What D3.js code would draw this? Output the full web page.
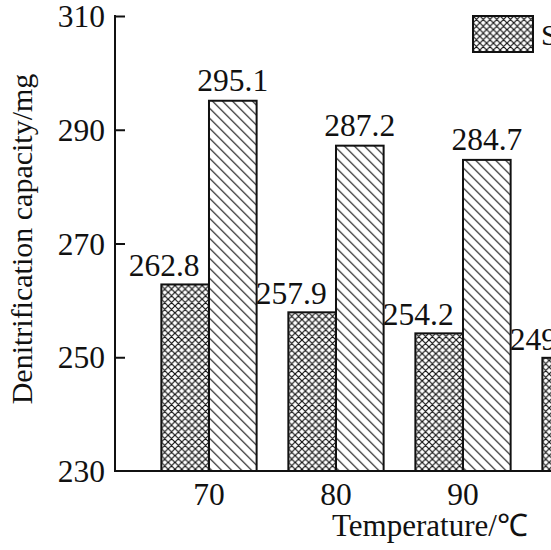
<!DOCTYPE html>
<html>
<head>
<meta charset="utf-8">
<script src="https://cdn.jsdelivr.net/npm/d3@7"></script>
<style>
  html, body { margin: 0; padding: 0; background: #fff; overflow: hidden; }
  svg { display: block; }
</style>
</head>
<body>
<div id="chart"></div>
<script>
// values
const temperatures = ["70", "80", "90", "100"];
const seriesNames = ["Straw", "Modified straw"];
const crossValues = [262.8, 257.9, 254.2, 249.9];
const hatchValues = [295.1, 287.2, 284.7, 281.0];
const yTicks = [230, 250, 270, 290, 310];

const W = 551, H = 550;
const axisX = 115, plotTop = 16, plotBottom = 471;
const serif = "'Liberation Serif', 'Times New Roman', Times, serif";
const numSize = 31.5, titleSize = 30;

const svg = d3.select("#chart").append("svg")
    .attr("width", W)
    .attr("height", H)
    .attr("font-family", serif);

const defs = svg.append("defs");

// crosshatch
let cross = defs.append("pattern")
    .attr("id", "cross")
    .attr("patternUnits", "userSpaceOnUse")
    .attr("width", 6.8).attr("height", 6.8);
cross.append("rect").attr("width", 6.8).attr("height", 6.8).attr("fill", "#fff");
cross.append("path")
    .attr("d", "M0,0L6.8,6.8M0,6.8L6.8,0M-1,1L1,-1M5.8,7.8L7.8,5.8M-1,5.8L1,7.8M5.8,-1L7.8,1")
    .attr("stroke", "#111").attr("stroke-width", 1.2);

// single diagonal hatch, "\" direction
let hatch = defs.append("pattern")
    .attr("id", "hatch")
    .attr("patternUnits", "userSpaceOnUse")
    .attr("width", 10).attr("height", 10);
hatch.append("rect").attr("width", 10).attr("height", 10).attr("fill", "#fff");
hatch.append("path")
    .attr("d", "M0,0L10,10M-1,9L1,11M9,-1L11,1")
    .attr("stroke", "#111").attr("stroke-width", 1.1);

const y = d3.scaleLinear().domain([230, 310]).range([plotBottom, plotTop]);

const x = d3.scaleBand()
    .domain(temperatures)
    .range([axisX, 684])
    .paddingInner(0.25)
    .paddingOuter(0.365);

const xs = d3.scaleBand()
    .domain(seriesNames)
    .range([0, x.bandwidth()]);

const fills = ["url(#cross)", "url(#hatch)"];
const allValues = [crossValues, hatchValues];

const groups = svg.selectAll("g.group")
    .data(temperatures)
    .enter().append("g")
    .attr("class", "group")
    .attr("transform", d => `translate(${x(d)},0)`);

groups.selectAll("rect")
    .data((d, i) => seriesNames.map((s, k) => ({ s: s, k: k, v: allValues[k][i] })))
    .enter().append("rect")
    .attr("x", d => xs(d.s))
    .attr("y", d => y(d.v))
    .attr("width", xs.bandwidth())
    .attr("height", d => y(230) - y(d.v))
    .attr("fill", d => fills[d.k])
    .attr("stroke", "#111")
    .attr("stroke-width", 2);

// value labels; the crosshatch ones sit a bit to the left
groups.selectAll("text.val")
    .data((d, i) => seriesNames.map((s, k) => ({ s: s, k: k, v: allValues[k][i] })))
    .enter().append("text")
    .attr("class", "val")
    .attr("x", d => xs(d.s) + xs.bandwidth() / 2 + (d.k === 0 ? -21 : 0))
    .attr("y", d => y(d.v) - (d.k === 0 ? 8 : 10))
    .attr("text-anchor", "middle")
    .attr("font-size", numSize)
    .attr("fill", "#111")
    .text(d => d.v.toFixed(1));

// y axis: ticks pointing inward
const yAxis = svg.append("g")
    .attr("transform", `translate(${axisX},0)`)
    .call(d3.axisRight(y).tickValues(yTicks).tickSize(10).tickFormat(""));
yAxis.select(".domain").remove();
yAxis.selectAll(".tick line").attr("stroke", "#111").attr("stroke-width", 2)
    .filter(d => d === 230).remove();

svg.append("line")
    .attr("x1", axisX).attr("x2", axisX)
    .attr("y1", y(310) - 1).attr("y2", y(230) + 1)
    .attr("stroke", "#111").attr("stroke-width", 2);

svg.append("line")
    .attr("x1", axisX - 1).attr("x2", 700)
    .attr("y1", y(230)).attr("y2", y(230))
    .attr("stroke", "#111").attr("stroke-width", 2);

svg.selectAll("text.ytick")
    .data(yTicks)
    .enter().append("text")
    .attr("class", "ytick")
    .attr("x", axisX - 10)
    .attr("y", d => y(d))
    .attr("dy", "0.35em")
    .attr("text-anchor", "end")
    .attr("font-size", numSize)
    .attr("fill", "#111")
    .text(d => d);

svg.selectAll("text.xtick")
    .data(temperatures)
    .enter().append("text")
    .attr("class", "xtick")
    .attr("x", d => x(d) + x.bandwidth() / 2)
    .attr("y", 505)
    .attr("text-anchor", "middle")
    .attr("font-size", numSize)
    .attr("fill", "#111")
    .text(d => d);

// axis titles
svg.append("text")
    .attr("transform", "translate(32,239) rotate(-90)")
    .attr("text-anchor", "middle")
    .attr("font-size", titleSize)
    .attr("fill", "#111")
    .text("Denitrification capacity/mg");

svg.append("text")
    .attr("x", 430)
    .attr("y", 536)
    .attr("text-anchor", "middle")
    .attr("font-size", 31)
    .attr("fill", "#111")
    .text("Temperature/℃");

// legend
const legend = svg.append("g").attr("transform", "translate(473,16)");
seriesNames.forEach((s, k) => {
    let item = legend.append("g").attr("transform", `translate(${k * 260},0)`);
    item.append("rect")
        .attr("width", 60).attr("height", 36)
        .attr("fill", fills[k])
        .attr("stroke", "#111").attr("stroke-width", 2);
    item.append("text")
        .attr("x", 68).attr("y", 18)
        .attr("dy", "0.35em")
        .attr("font-size", titleSize)
        .attr("fill", "#111")
        .text(s);
});
</script>
</body>
</html>
